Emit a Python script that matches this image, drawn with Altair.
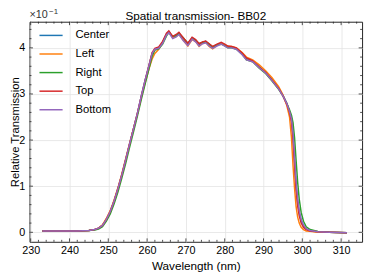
import altair as alt
import pandas as pd

wl = [233, 238, 242, 245, 246.5, 247.5, 248.5, 249.5, 250.5, 251.5,
      252.5, 253.5, 254.5, 255.5, 256.5, 257.5, 258.5, 259.5, 260.5, 261.3,
      262, 263, 264, 265, 265.6, 266.6, 267.5, 268.2, 269.3, 270.5,
      271.6, 272.5, 273.4, 274.3, 275.1, 276, 276.9, 278, 279.1, 280,
      280.8, 281.8, 283, 284.5, 285.6, 287.2, 288.9, 290.6, 292.2, 293.9,
      295, 296, 296.7, 297.2, 297.6, 298, 298.4, 298.8, 299.2, 299.7,
      300.3, 301, 302, 304, 307, 311.5]

center = [0.03, 0.03, 0.03, 0.04, 0.06, 0.09, 0.15, 0.28, 0.45, 0.68,
          0.95, 1.25, 1.58, 1.92, 2.25, 2.58, 2.95, 3.30, 3.62, 3.88,
          3.97, 4.00, 4.12, 4.30, 4.35, 4.23, 4.27, 4.32, 4.20, 4.08,
          4.22, 4.16, 4.07, 4.12, 4.14, 4.07, 4.01, 4.07, 4.10, 4.06,
          4.02, 4.02, 3.99, 3.88, 3.77, 3.72, 3.59, 3.47, 3.31, 3.13,
          2.97, 2.80, 2.62, 2.45, 2.10, 1.55, 1.00, 0.65, 0.42, 0.25,
          0.14, 0.07, 0.04, 0.01, 0.00, -0.01]
left = [0.03, 0.03, 0.03, 0.04, 0.06, 0.09, 0.16, 0.30, 0.47, 0.70,
        0.97, 1.27, 1.60, 1.93, 2.25, 2.57, 2.92, 3.25, 3.55, 3.76,
        3.88, 3.97, 4.12, 4.28, 4.34, 4.22, 4.25, 4.30, 4.17, 4.04,
        4.18, 4.14, 4.03, 4.10, 4.12, 4.03, 3.98, 4.06, 4.10, 4.07,
        4.03, 4.03, 4.00, 3.90, 3.80, 3.74, 3.63, 3.50, 3.35, 3.16,
        2.98, 2.75, 2.50, 2.05, 1.45, 0.95, 0.55, 0.33, 0.20, 0.11,
        0.06, 0.03, 0.02, 0.00, 0.00, -0.01]
right = [0.03, 0.03, 0.03, 0.04, 0.05, 0.07, 0.12, 0.24, 0.40, 0.62,
         0.88, 1.18, 1.50, 1.85, 2.18, 2.52, 2.88, 3.22, 3.55, 3.82,
         3.95, 3.98, 4.08, 4.26, 4.33, 4.25, 4.26, 4.31, 4.22, 4.10,
         4.20, 4.17, 4.09, 4.12, 4.13, 4.08, 4.02, 4.06, 4.08, 4.05,
         4.00, 4.00, 3.97, 3.86, 3.74, 3.70, 3.56, 3.44, 3.28, 3.10,
         2.96, 2.80, 2.66, 2.54, 2.38, 2.05, 1.55, 1.08, 0.72, 0.43,
         0.24, 0.12, 0.06, 0.02, 0.00, -0.01]
top = [0.03, 0.03, 0.03, 0.04, 0.06, 0.09, 0.15, 0.28, 0.45, 0.68,
       0.95, 1.25, 1.58, 1.92, 2.25, 2.58, 2.95, 3.30, 3.63, 3.90,
       3.99, 4.02, 4.14, 4.32, 4.37, 4.25, 4.29, 4.34, 4.22, 4.10,
       4.23, 4.18, 4.09, 4.13, 4.15, 4.09, 4.03, 4.08, 4.12, 4.08,
       4.04, 4.03, 4.00, 3.89, 3.78, 3.72, 3.58, 3.46, 3.30, 3.12,
       2.96, 2.78, 2.60, 2.40, 2.02, 1.45, 0.92, 0.58, 0.36, 0.20,
       0.11, 0.06, 0.03, 0.01, 0.00, -0.01]
bottom = [0.03, 0.03, 0.03, 0.04, 0.06, 0.09, 0.15, 0.28, 0.45, 0.68,
          0.95, 1.25, 1.58, 1.92, 2.25, 2.58, 2.95, 3.30, 3.62, 3.88,
          3.97, 3.99, 4.10, 4.28, 4.33, 4.20, 4.24, 4.29, 4.16, 4.05,
          4.19, 4.13, 4.04, 4.09, 4.11, 4.04, 3.99, 4.04, 4.08, 4.04,
          4.00, 4.00, 3.97, 3.85, 3.74, 3.70, 3.57, 3.45, 3.29, 3.11,
          2.96, 2.79, 2.62, 2.46, 2.16, 1.66, 1.10, 0.74, 0.48, 0.28,
          0.16, 0.08, 0.04, 0.01, 0.00, -0.01]

series_names = ["Center", "Left", "Right", "Top", "Bottom"]
series_vals = [center, left, right, top, bottom]
colors = ["#1f77b4", "#ff7f0e", "#2ca02c", "#d62728", "#9467bd"]

x_major = [230, 240, 250, 260, 270, 280, 290, 300, 310]
x_minor = [232, 234, 236, 238, 242, 244, 246, 248, 252, 254, 256, 258,
           262, 264, 266, 268, 272, 274, 276, 278, 282, 284, 286, 288,
           292, 294, 296, 298, 302, 304, 306, 308, 312, 314]
y_major = [0, 1, 2, 3, 4]
y_minor = [0.2, 0.4, 0.6, 0.8, 1.2, 1.4, 1.6, 1.8, 2.2, 2.4, 2.6, 2.8,
           3.2, 3.4, 3.6, 3.8, 4.2, 4.4]

title_text = "Spatial transmission- BB02"

rows = []
for i, (name, vals) in enumerate(zip(series_names, series_vals)):
    for w, v in zip(wl, vals):
        rows.append({"wl": w, "val": v, "series": name, "order": i})
df = pd.DataFrame(rows)

W, H = 340, 225
FONT = "Liberation Sans"
xscale = alt.Scale(domain=[229.7, 315.4], nice=False, zero=False)
yscale = alt.Scale(domain=[-0.206, 4.567], nice=False, zero=False)
xaxis = alt.Axis(values=x_major, format="d", title="Wavelength (nm)",
                 labelPadding=3, titlePadding=5)
yaxis = alt.Axis(values=y_major, format="d", title="Relative Transmission",
                 labelPadding=5, titlePadding=0, titleBaseline="alphabetic",
                 titleFontSize=11.5)

lines = alt.Chart(df).mark_line(strokeWidth=1.5, clip=True).encode(
    x=alt.X("wl:Q", scale=xscale, axis=xaxis),
    y=alt.Y("val:Q", scale=yscale, axis=yaxis),
    color=alt.Color("series:N",
                    scale=alt.Scale(domain=series_names, range=colors),
                    legend=alt.Legend(title=None, orient="none", legendX=9,
                                      legendY=1, symbolType="stroke",
                                      symbolSize=560, symbolStrokeWidth=1.5,
                                      labelFontSize=11.5, labelFont=FONT,
                                      labelOffset=12, rowPadding=0)),
    order="order:Q",
)

def xticks(vals, length):
    d = pd.DataFrame({"wl": vals})
    b = alt.Chart(d).mark_rule(color="#222", strokeWidth=0.8).encode(
        x=alt.X("wl:Q", scale=xscale, axis=xaxis),
        y=alt.value(H), y2=alt.value(H - length))
    t = alt.Chart(d).mark_rule(color="#222", strokeWidth=0.8).encode(
        x=alt.X("wl:Q", scale=xscale, axis=xaxis),
        y=alt.value(0), y2=alt.value(length))
    return [b, t]

def yticks(vals, length):
    d = pd.DataFrame({"val": vals})
    l = alt.Chart(d).mark_rule(color="#222", strokeWidth=0.8).encode(
        y=alt.Y("val:Q", scale=yscale, axis=yaxis),
        x=alt.value(0), x2=alt.value(length))
    r = alt.Chart(d).mark_rule(color="#222", strokeWidth=0.8).encode(
        y=alt.Y("val:Q", scale=yscale, axis=yaxis),
        x=alt.value(W), x2=alt.value(W - length))
    return [l, r]

offset_df = pd.DataFrame({"txt": ["\u00d710"], "sup": ["\u22121"],
                          "ttl": [title_text]})
mult = alt.Chart(offset_df).mark_text(align="left", baseline="alphabetic",
                                      fontSize=11, font=FONT, color="#333").encode(
    text="txt:N", x=alt.value(0), y=alt.value(-3.5))
sup = alt.Chart(offset_df).mark_text(align="left", baseline="alphabetic",
                                     fontSize=8, font=FONT, color="#333").encode(
    text="sup:N", x=alt.value(20), y=alt.value(-7.5))
ttl = alt.Chart(offset_df).mark_text(align="center", baseline="alphabetic",
                                     fontSize=12, font=FONT, color="black").encode(
    text="ttl:N", x=alt.value(W / 2), y=alt.value(-2))

layers = [lines] + xticks(x_major, 3.5) + xticks(x_minor, 2) + \
    yticks(y_major, 3.5) + yticks(y_minor, 2) + [mult, sup, ttl]

chart = alt.layer(*layers).properties(
    width=W, height=H,
    autosize=alt.AutoSizeParams(type="none"),
    padding={"left": 22, "top": 11, "right": 4, "bottom": 35},
).configure_view(stroke="#222", strokeWidth=1).configure_axis(
    labelFont=FONT, titleFont=FONT, labelFontSize=11, titleFontSize=12,
    titleFontWeight="normal", labelColor="black", titleColor="black",
    ticks=False, domain=False, grid=True, gridColor="#e3e3e3", gridWidth=0.8,
)

chart.save("out.html", embed_options={"renderer": "svg", "actions": False})
